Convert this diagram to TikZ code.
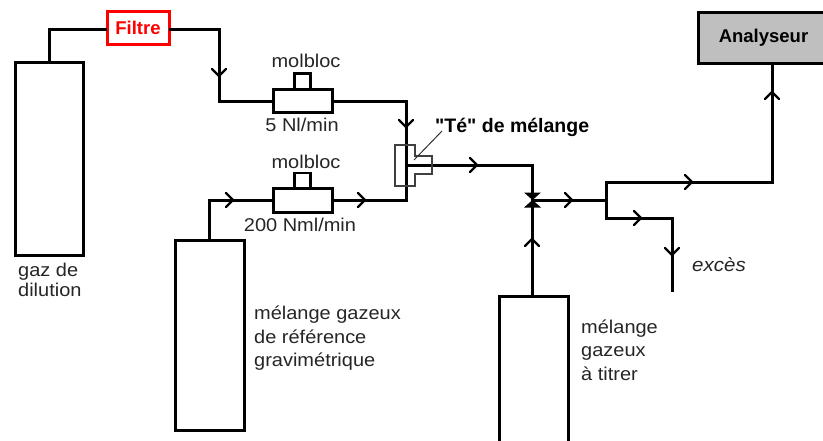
\documentclass[tikz,border=0pt]{standalone}
\usepackage{fontspec}
\setmainfont{Liberation Sans}
\newfontfamily\widefont[FakeStretch=1.08]{Liberation Sans}
\newfontfamily\plainfont{Liberation Sans}
\newcommand{\lblfont}{\widefont\fontsize{18.5}{23.5}\selectfont}
\newcommand{\boldlbl}{\fontsize{18.5}{22}\selectfont\bfseries}
\tikzset{
  pipe/.style={line width=3pt,line join=miter,black},
  vessel/.style={draw=black,line width=3pt,fill=white,rectangle,inner sep=0pt,outer sep=0pt},
  thinbox/.style={draw=black!75,line width=1.6pt},
  lbl/.style={inner sep=0pt,font=\lblfont,text=black!85},
  leftlbl/.style={lbl,align=left,anchor=north west},
  chev/.pic={\draw[line width=2.2pt,black,line cap=round] (-7,-7) -- (0,0) -- (-7,7);}
}
\begin{document}
\begin{tikzpicture}[x=1pt,y=-1pt]
\useasboundingbox (0,0) rectangle (823,440);
\fill[white] (0,0) rectangle (823,440);
% nodes
\node[vessel,minimum width=68pt,minimum height=193pt] (c1) at (49,158.5) {};
\node[vessel,minimum width=69pt,minimum height=190pt] (c2) at (209.5,335) {};
\node[vessel,minimum width=69pt,minimum height=150pt] (c3) at (533.5,371) {};
\node[draw=red,line width=3pt,fill=white,minimum width=62pt,minimum height=33pt,inner sep=0pt,outer sep=0pt,text=red,font=\boldlbl] (filtre) at (138,27.5) {Filtre};
\node[draw=black,line width=3pt,fill=black!25,minimum width=127pt,minimum height=51pt,inner sep=0pt,outer sep=0pt,font=\boldlbl] (ana) at (762,38) {\hspace*{3pt}Analyseur};
\node[vessel,minimum width=59pt,minimum height=23pt] (m1) at (302.5,101) {};
\node[vessel,minimum width=59pt,minimum height=24pt] (m2) at (302.5,200) {};
\node[vessel,line width=2.2pt,minimum width=16pt,minimum height=16pt,anchor=south] (t1) at (m1.north) {};
\node[vessel,line width=2.2pt,minimum width=16pt,minimum height=15pt,anchor=south] (t2) at (m2.north) {};
% junction coordinates
\coordinate (a1) at (49,29);
\coordinate (a2) at (219,29);
\coordinate (a3) at (219,101);
\coordinate (b1) at (406,101);
\coordinate (b2) at (406,200);
\coordinate (d1) at (209,200);
\coordinate (e1) at (406,165);
\coordinate (e2) at (532,165);
\coordinate (v) at (532,200);
\coordinate (j) at (606,200);
\coordinate (j1) at (606,182);
\coordinate (j2) at (606,218);
\coordinate (k1) at (772,182);
\coordinate (k2) at (672,218);
\coordinate (k3) at (672,292);
% pipes
\draw[pipe] (c1.north -| a1) -- (a1) -- (filtre.west |- a1);
\draw[pipe] (filtre.east |- a2) -- (a2) -- (a3) -- (m1.west);
\draw[pipe] (m1.east) -- (b1) -- (b2) -- (m2.east);
\draw[pipe] (c2.north -| d1) -- (d1) -- (m2.west);
\draw[pipe] (e1) -- (e2) -- (v);
\draw[pipe] (v) -- (c3.north -| v);
\draw[pipe] (v) -- (j);
\draw[pipe] (ana.south -| k1) -- (k1) -- (j1) -- (j2) -- (k2) -- (k3);
% tee
\draw[thinbox] (395,145) -- (415,145) -- (415,156) -- (432,156) -- (432,174) -- (415,174) -- (415,186) -- (395,186) -- cycle;
\draw[line width=1pt,black!80] (442,131) -- (414,160);
% valve
\fill (524,192.5) -- (541,192.5) -- (532.5,200) -- (541,207.5) -- (524,207.5) -- (532.5,200) -- cycle;
% chevrons
\pic[rotate=-90] at (219,76) {chev};
\pic[rotate=-90] at (406,127) {chev};
\pic at (477,165) {chev};
\pic at (233,200) {chev};
\pic at (365,200) {chev};
\pic at (572,200) {chev};
\pic at (692,182) {chev};
\pic at (641,218) {chev};
\pic[rotate=-90] at (672,255) {chev};
\pic[rotate=90] at (772,92) {chev};
\pic[rotate=90] at (532,239) {chev};
% labels
\node[lbl] (l1) at (306,61) {molbloc};
\node[lbl] (l2) at (306,162) {molbloc};
\node[lbl] (l3) at (302,125) {5 Nl/min};
\node[lbl] (l4) at (300,225) {200 Nml/min};
\node[inner sep=0pt,font=\plainfont\fontsize{19.5}{22}\selectfont\bfseries,anchor=west] (te) at (435,127) {"Té" de mélange};
\node[leftlbl,font=\widefont\fontsize{18.5}{20}\selectfont] (l5) at (18,263) {gaz de\\dilution};
\node[leftlbl] (l6) at (254,306) {mélange gazeux\\de référence\\gravimétrique};
\node[leftlbl] (l7) at (581,319.5) {mélange\\gazeux\\à titrer};
\node[lbl,anchor=west,font=\widefont\fontsize{19}{22}\selectfont\itshape] (l8) at (692,265) {excès};
\end{tikzpicture}
\end{document}
